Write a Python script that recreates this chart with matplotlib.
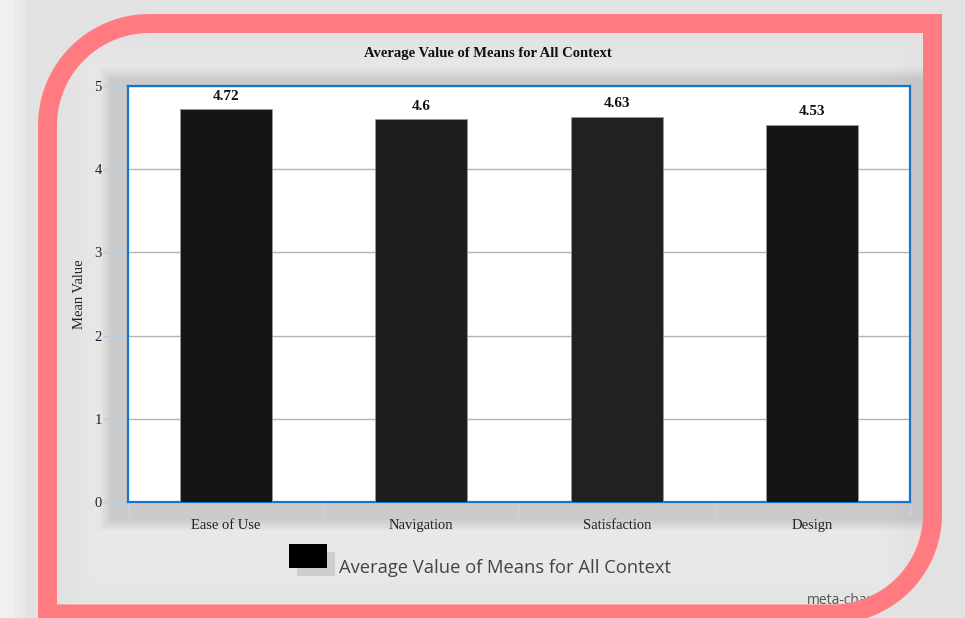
import numpy as np
import matplotlib.pyplot as plt
from matplotlib.patches import Rectangle, PathPatch
from matplotlib.path import Path

# chart data
categories = ['Ease of Use', 'Navigation', 'Satisfaction', 'Design']
means = [4.72, 4.6, 4.63, 4.53]
value_labels = ['4.72', '4.6', '4.63', '4.53']
series_name = 'Average Value of Means for All Context'
chart_title = 'Average Value of Means for All Context'
y_label = 'Mean Value'
y_ticks = [0, 1, 2, 3, 4, 5]

bar_colors = ['#151517', '#1d1c1f', '#222022', '#151417']
W, H = 965, 618

fig = plt.figure(figsize=(W / 100, H / 100), dpi=100)
fig.patch.set_facecolor('#e2e2e2')

# background layer in pixel coordinates
bg = fig.add_axes([0, 0, 1, 1], zorder=0)
bg.set_xlim(0, W)
bg.set_ylim(H, 0)
bg.axis('off')

# lighter left strip and soft inner panel
for i in range(4):
    bg.add_patch(Rectangle((0, 0), 8 + 6 * i, H, color='white', alpha=0.18, lw=0))
for i in range(6):
    d = 6 * i
    bg.add_patch(Rectangle((70 + d, 40 + d), 840 - 2 * d, 565 - 2 * d,
                           color='white', alpha=0.05, lw=0))
# shadow around plot area
for i in range(5):
    d = 12 - 2.5 * i
    bg.add_patch(Rectangle((112 - d, 80 - d), 812 + 2 * d, 438 + 2 * d,
                           color='black', alpha=0.022, lw=0))

# main chart
ax = fig.add_axes([128 / W, 1 - 502 / H, (910 - 128) / W, (502 - 86) / H], zorder=1)
ax.set_facecolor('white')
x = np.arange(len(categories))
ax.bar(x, means, width=0.47, color=bar_colors, edgecolor='#9a9a9a',
       linewidth=0.5, zorder=3)
for xi, v, lab in zip(x, means, value_labels):
    ax.text(xi, v + 0.08, lab, ha='center', va='bottom', fontsize=11,
            fontweight='bold', family='Liberation Serif', color='#111')

ax.set_xlim(-0.5, len(categories) - 0.5)
ax.set_ylim(0, 5)
ax.set_yticks(y_ticks)
ax.set_yticklabels([str(t) for t in y_ticks], family='Liberation Serif',
                   fontsize=10.5, color='#222')
ax.set_xticks(x)
ax.set_xticklabels(categories, family='Liberation Serif', fontsize=10.5, color='#222')
ax.set_xticks(np.arange(-0.5, len(categories)), minor=True)
ax.tick_params(axis='x', which='major', length=0, pad=12)
ax.tick_params(axis='x', which='minor', length=10, color='#c8d4e4', width=1)
ax.tick_params(axis='y', length=18, color='#b8cce4', width=1, pad=1)
ax.yaxis.grid(True, color='#b4b4b4', linewidth=1, zorder=1)
ax.set_axisbelow(True)
for s in ax.spines.values():
    s.set_color('#1a75c9')
    s.set_linewidth(1.6)
ax.set_ylabel(y_label, family='Liberation Serif', fontsize=10.5, color='#222',
              labelpad=6)

fig.text(488 / W, 1 - 53 / H, chart_title, ha='center', va='center',
         fontsize=10.5, fontweight='bold', family='Liberation Serif', color='#111')

# overlay: legend, watermark, frame
top = fig.add_axes([0, 0, 1, 1], zorder=2)
top.set_xlim(0, W)
top.set_ylim(H, 0)
top.axis('off')
top.patch.set_alpha(0)

top.add_patch(Rectangle((297, 552), 38, 24, color='#cdcdcd', lw=0))
top.add_patch(Rectangle((289, 544), 38, 24, color='black', lw=0))
top.text(339, 573, series_name, fontsize=13.2, family='Open Sans',
         color='#444', va='baseline')
top.text(807, 604, 'meta-chart', fontsize=10, family='Open Sans',
         color='#555', va='baseline', zorder=3)

# rounded pink frame (centerline of the band), drawn over the watermark
L, T, R, B = 47.5, 23.5, 932.5, 614
r1, r2 = 102, 100
t1 = np.linspace(np.pi, 1.5 * np.pi, 40)
t2 = np.linspace(0, 0.5 * np.pi, 40)
pts = [(L, H + 20), (L, T + r1)]
pts += [(L + r1 + r1 * np.cos(t), T + r1 + r1 * np.sin(t)) for t in t1]
pts += [(R, T), (R, B - r2)]
pts += [(R - r2 + r2 * np.cos(t), B - r2 + r2 * np.sin(t)) for t in t2]
pts += [(L - 9.5, B)]
frame = Path(pts)
top.add_patch(PathPatch(frame, fill=False, edgecolor='#ff7b80', zorder=5,
                        linewidth=19 * 0.72, capstyle='butt', joinstyle='miter'))

fig.savefig('out.png', dpi=100, facecolor=fig.get_facecolor())
